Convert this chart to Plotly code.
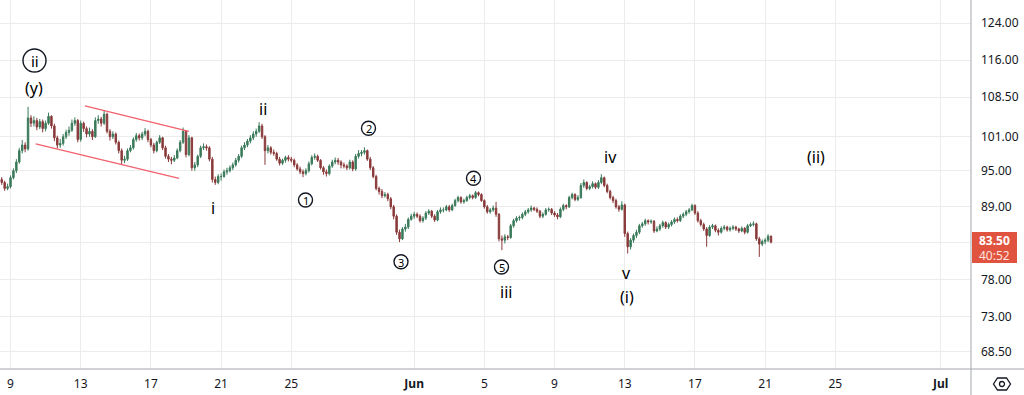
import plotly.graph_objects as go
from datetime import datetime, timedelta
import math

# ---------------- data (4h candles) ----------------
first_open = 93.5
closes = [
    93.0, 92.0, 92.3,                          # May 8 (12h-20h)
    93.8, 95.0, 96.5, 98.5, 99.5, 98.8,        # May 9
    104.5, 103.5, 104.0, 102.8, 103.8, 102.5,  # May 10
    103.5, 104.8, 103.0, 100.8, 99.5, 99.8,    # May 11
    101.0, 101.8, 102.2, 103.5, 104.0, 100.5,  # May 12
    103.5, 102.5, 101.5, 102.0, 101.0, 104.0,  # May 13
    104.3, 103.5, 105.2, 102.0, 101.0, 101.5,  # May 14
    100.0, 98.5, 96.8, 97.0, 98.5, 99.0,       # May 15
    100.5, 101.2, 100.8, 101.5, 102.0, 100.5,  # May 16
    99.5, 98.5, 100.0, 100.8, 99.0, 97.5,      # May 17
    97.0, 96.8, 97.2, 98.5, 100.0, 102.0,      # May 18
    97.8, 100.8, 95.5, 96.0, 97.5, 99.0,       # May 19
    99.2, 99.0, 97.0, 93.5, 93.0, 94.0,        # May 20
    94.0, 94.8, 95.0, 95.5, 96.0, 96.8,        # May 21
    97.5, 99.0, 99.5, 100.2, 100.8, 101.5,     # May 22
    102.0, 103.0, 101.0, 98.5, 99.0, 98.2,     # May 23
    98.0, 97.0, 96.3, 96.8, 97.3, 97.0,        # May 24
    96.8, 96.0, 95.3, 94.8, 94.5, 95.0,        # May 25
    96.2, 97.3, 97.5, 96.8, 95.5, 94.8,        # May 26
    94.5, 95.8, 96.5, 96.8, 96.5, 96.0,        # May 27
    95.8, 95.5, 96.5, 95.3, 97.5, 98.0,        # May 28
    98.2, 98.5, 97.0, 95.5, 94.0, 92.0,        # May 29
    91.5, 90.8, 91.0, 90.3, 89.0, 87.5,        # May 30
    85.0, 84.0, 85.5, 85.8, 87.0, 87.5,        # May 31
    87.8, 87.5, 86.8, 87.2, 88.0, 88.3,        # Jun 1
    87.5, 86.9, 88.2, 88.5, 88.5, 89.0,        # Jun 2
    88.5, 89.2, 90.0, 90.5, 89.8, 90.0,        # Jun 3
    90.5, 90.8, 90.5, 91.3, 91.0, 90.0,        # Jun 4
    89.0, 88.2, 88.5, 88.8, 87.8, 84.0,        # Jun 5
    83.8, 84.3, 84.2, 86.0, 86.8, 87.2,        # Jun 6
    87.3, 87.8, 88.2, 88.5, 88.8, 88.6,        # Jun 7
    88.3, 87.5, 87.8, 88.5, 88.6, 88.0,        # Jun 8
    87.7, 87.4, 88.6, 89.2, 89.0, 90.5,        # Jun 9
    91.0, 90.2, 90.5, 92.5, 93.0, 92.0,        # Jun 10
    92.3, 92.8, 92.2, 93.0, 93.8, 92.5,        # Jun 11
    91.5, 90.5, 90.0, 89.0, 88.6, 89.3,        # Jun 12
    84.8, 82.8, 83.8, 84.5, 85.0, 86.0,        # Jun 13
    86.3, 86.8, 86.6, 86.7, 85.2, 85.5,        # Jun 14
    86.0, 86.5, 85.8, 86.2, 86.6, 87.0,        # Jun 15
    86.8, 87.5, 87.8, 88.2, 88.5, 89.2,        # Jun 16
    88.0, 86.8, 86.2, 85.5, 84.5, 85.8,        # Jun 17
    86.0, 85.3, 85.0, 85.6, 85.8, 85.4,        # Jun 18
    85.6, 85.8, 85.5, 85.2, 85.6, 85.0,        # Jun 19
    86.0, 86.2, 86.3, 84.0, 83.2, 83.6,        # Jun 20
    83.8, 84.4, 83.5,                          # Jun 21
]
highs = [
    93.9, 93.3, 92.8,
    94.2, 95.4, 97.0, 99.0, 100.4, 100.0,
    106.6, 105.0, 104.8, 104.5, 104.3, 104.2,
    104.0, 105.5, 105.0, 103.4, 101.2, 100.6,
    101.5, 102.3, 102.9, 104.2, 104.6, 104.3,
    104.0, 103.8, 102.9, 102.7, 102.4, 104.6,
    105.0, 104.7, 106.0, 105.5, 102.4, 102.0,
    101.8, 100.3, 98.9, 97.6, 98.9, 99.5,
    100.9, 101.7, 101.6, 101.9, 102.6, 102.3,
    100.8, 99.9, 100.3, 101.3, 101.0, 99.4,
    97.9, 97.4, 97.7, 98.9, 100.4, 102.7,
    102.2, 101.3, 101.0, 96.5, 97.8, 99.4,
    99.8, 99.6, 99.3, 97.4, 94.0, 94.4,
    94.5, 95.2, 95.5, 95.9, 96.4, 97.2,
    97.9, 99.4, 100.0, 100.6, 101.3, 102.0,
    102.5, 103.7, 103.4, 101.3, 99.5, 99.3,
    98.7, 98.3, 97.4, 97.1, 97.6, 97.7,
    97.4, 97.1, 96.3, 95.7, 95.2, 95.4,
    96.6, 97.7, 98.0, 97.8, 97.0, 95.8,
    95.2, 96.1, 96.9, 97.3, 97.2, 96.8,
    96.4, 96.1, 96.9, 96.8, 97.9, 98.6,
    98.6, 99.1, 98.7, 97.4, 95.8, 94.3,
    92.3, 91.9, 91.4, 91.3, 90.6, 89.3,
    87.8, 85.4, 85.8, 86.3, 87.3, 87.9,
    88.2, 88.1, 87.8, 87.5, 88.3, 88.6,
    88.5, 87.8, 88.5, 88.9, 88.9, 89.3,
    89.3, 89.5, 90.3, 90.8, 90.7, 90.3,
    90.8, 91.1, 91.0, 91.6, 91.5, 91.2,
    90.2, 89.3, 88.8, 89.2, 89.8, 88.0,
    84.5, 84.7, 84.6, 86.3, 87.1, 87.5,
    87.6, 88.1, 88.5, 88.8, 89.2, 89.0,
    88.9, 88.5, 88.1, 88.8, 88.9, 88.8,
    88.3, 88.0, 88.9, 89.5, 89.4, 90.8,
    91.3, 91.2, 90.9, 92.9, 93.5, 93.2,
    92.6, 93.2, 93.0, 93.4, 94.4, 94.0,
    92.8, 91.8, 90.8, 90.3, 89.3, 89.9,
    89.5, 85.1, 84.1, 84.8, 85.4, 86.3,
    86.6, 87.1, 87.0, 87.0, 86.9, 85.9,
    86.3, 86.8, 86.7, 86.5, 86.9, 87.3,
    87.3, 87.8, 88.1, 88.5, 88.8, 89.5,
    89.4, 88.3, 87.1, 86.5, 85.8, 86.1,
    86.3, 86.2, 85.6, 85.9, 86.1, 86.0,
    85.9, 86.1, 86.0, 85.7, 85.9, 85.8,
    86.3, 86.5, 86.7, 86.5, 84.3, 83.9,
    84.1, 84.7, 84.5,
]
lows = [
    92.6, 91.6, 91.7,
    92.0, 93.5, 94.6, 96.2, 98.0, 98.2,
    98.5, 102.8, 102.9, 102.2, 102.4, 101.8,
    102.0, 103.2, 102.5, 100.2, 98.9, 99.0,
    99.4, 100.6, 101.2, 101.9, 103.0, 100.0,
    100.1, 101.9, 100.9, 101.0, 100.4, 100.8,
    103.4, 102.9, 103.2, 101.6, 100.3, 100.6,
    99.6, 98.0, 96.0, 96.3, 96.7, 98.2,
    98.7, 100.1, 100.3, 100.4, 101.1, 100.0,
    99.1, 98.0, 98.2, 99.7, 98.6, 97.1,
    96.5, 96.1, 96.5, 97.0, 98.2, 99.7,
    97.3, 97.5, 95.0, 95.0, 95.6, 97.2,
    98.6, 98.5, 96.6, 93.0, 92.6, 92.7,
    93.3, 93.8, 94.3, 94.7, 95.1, 95.7,
    96.4, 97.2, 98.6, 99.1, 99.8, 100.4,
    101.0, 101.7, 100.6, 96.0, 98.0, 97.8,
    97.6, 96.7, 95.9, 96.0, 96.4, 96.6,
    96.4, 95.6, 95.0, 94.4, 93.9, 94.2,
    94.7, 95.9, 96.9, 96.5, 95.2, 94.3,
    94.0, 94.2, 95.5, 96.1, 96.0, 95.4,
    95.4, 95.1, 95.2, 94.9, 95.0, 97.1,
    97.5, 97.8, 96.7, 95.1, 93.7, 91.7,
    91.0, 90.4, 90.5, 89.9, 88.6, 87.0,
    84.6, 83.5, 83.8, 85.1, 85.5, 86.8,
    87.1, 87.2, 86.5, 86.5, 86.9, 87.7,
    87.2, 86.6, 86.7, 87.9, 88.1, 88.3,
    88.2, 88.3, 89.0, 89.7, 89.5, 89.5,
    89.8, 90.2, 90.2, 90.3, 90.7, 89.8,
    88.7, 87.9, 87.9, 88.2, 87.4, 83.6,
    82.3, 83.3, 83.8, 84.0, 85.7, 86.5,
    86.8, 87.0, 87.5, 87.9, 88.2, 88.3,
    88.0, 87.2, 87.2, 87.6, 88.2, 87.7,
    87.4, 87.0, 87.2, 88.3, 88.6, 88.8,
    90.2, 89.9, 89.9, 90.3, 92.1, 91.7,
    91.7, 92.0, 91.9, 91.9, 92.7, 92.2,
    91.2, 90.2, 89.6, 88.7, 88.2, 88.4,
    84.3, 81.8, 82.4, 83.4, 84.1, 84.7,
    85.7, 86.0, 86.2, 86.3, 84.9, 85.0,
    85.2, 85.7, 85.5, 85.5, 85.9, 86.3,
    86.5, 86.6, 87.2, 87.5, 87.9, 88.3,
    87.7, 86.5, 85.9, 85.2, 82.8, 84.3,
    85.5, 85.0, 84.5, 84.8, 85.3, 85.1,
    85.1, 85.3, 85.2, 84.9, 85.0, 84.7,
    84.8, 85.8, 85.9, 83.7, 81.3, 82.9,
    83.2, 83.5, 83.3,
]
opens = [first_open] + closes[:-1]
first_candle = datetime(2024, 5, 8, 12)
times = [first_candle + timedelta(hours=4 * i) for i in range(len(closes))]

last_price = "83.50"
countdown = "40:52"

y_tick_vals = [68.5, 73, 78, 83.5, 89, 95, 101, 108.5, 116, 124]
# the 83.50 tick label is covered by the last-price box
y_tick_text = ["" if v == 83.5 else f"{v:.2f}" for v in y_tick_vals]
x_tick_dates = ["2024-05-09", "2024-05-13", "2024-05-17", "2024-05-21", "2024-05-25",
                "2024-06-01", "2024-06-05", "2024-06-09", "2024-06-13", "2024-06-17",
                "2024-06-21", "2024-06-25", "2024-07-01"]
x_tick_text = ["9", "13", "17", "21", "25", "<b>Jun</b>", "5", "9", "13", "17", "21", "25", "<b>Jul</b>"]

# channel trendlines (time, price)
upper_channel_t = ["2024-05-13 05:50", "2024-05-19 04:00"]
upper_channel_p = [106.8, 102.0]
lower_channel_t = ["2024-05-10 10:30", "2024-05-18 14:30"]
lower_channel_p = [99.7, 93.7]

# ---------------- layout geometry ----------------
W, H = 1024, 395
PW, PH = 971, 369  # plot area in px
def px(x):
    return x / PW
def py(y):
    return 1 - y / PH

TXT = "#131722"
GRID = "#ececec"
AXLINE = "#a3a6ad"

fig = go.Figure()
fig.add_trace(go.Candlestick(
    x=times, open=opens, high=highs, low=lows, close=closes,
    increasing=dict(line=dict(color="#3a7a5a", width=1), fillcolor="#3a7a5a"),
    decreasing=dict(line=dict(color="#8a3a3a", width=1), fillcolor="#8a3a3a"),
    whiskerwidth=0, hoverinfo="skip", showlegend=False,
))
for t, p in ((upper_channel_t, upper_channel_p), (lower_channel_t, lower_channel_p)):
    fig.add_trace(go.Scatter(x=t, y=p, mode="lines", line=dict(color="#f2616d", width=1.4),
                             hoverinfo="skip", showlegend=False))

# wave labels: (text, x px, y px, font size)
plain_labels = [
    ("(y)", 34, 88, 16),
    ("ii", 262.5, 109, 16),
    ("i", 213, 208, 16),
    ("iii", 505.5, 292, 16),
    ("iv", 610, 156.5, 16),
    ("v", 626.5, 273, 16),
    ("(i)", 626.5, 297, 16),
    ("(ii)", 816, 156.5, 16),
]
circled_labels = [
    ("ii", 34.5, 60.5, 11.5, 15),
    ("1", 305.5, 200, 7, 11),
    ("2", 368.5, 128.3, 7, 11),
    ("3", 401, 261.7, 7, 11),
    ("4", 473.5, 178.3, 7, 11),
    ("5", 501.5, 267, 7, 11),
]
annotations = []
shapes = []
for txt, x, y, s in plain_labels:
    annotations.append(dict(text=txt, x=px(x), y=py(y), xref="paper", yref="paper",
                            showarrow=False, xanchor="center", yanchor="middle",
                            font=dict(size=s, color="black", family="Noto Sans")))
for txt, x, y, r, s in circled_labels:
    shapes.append(dict(type="circle", xref="paper", yref="paper",
                       x0=px(x - r), x1=px(x + r), y0=py(y + r), y1=py(y - r),
                       line=dict(color=TXT, width=1.4)))
    annotations.append(dict(text=txt, x=px(x), y=py(y + 0.5), xref="paper", yref="paper",
                            showarrow=False, xanchor="center", yanchor="middle",
                            font=dict(size=s, color="black", family="Noto Sans")))

# price label box (background + two text lines)
shapes.append(dict(type="rect", xref="paper", yref="paper",
                   x0=px(972), x1=px(1017), y0=py(263), y1=py(232),
                   fillcolor="#e0533f", line=dict(width=0), layer="above"))
annotations.append(dict(text=f"<b>{last_price}</b>", x=px(994.5), y=py(240.5),
                        xref="paper", yref="paper", showarrow=False,
                        xanchor="center", yanchor="middle",
                        font=dict(size=12, color="white", family="Noto Sans")))
annotations.append(dict(text=countdown, x=px(994.5), y=py(255.5),
                        xref="paper", yref="paper", showarrow=False,
                        xanchor="center", yanchor="middle",
                        font=dict(size=12, color="#fde3df", family="Noto Sans")))

# axis borders
shapes.append(dict(type="line", xref="paper", yref="paper", x0=0, x1=px(W), y0=0, y1=0,
                   line=dict(color=AXLINE, width=1)))
shapes.append(dict(type="line", xref="paper", yref="paper", x0=1, x1=1, y0=py(H), y1=1,
                   line=dict(color=AXLINE, width=1)))
# settings hexagon icon
hx, hy = 1002, 384
hex_pts = [(hx - 8.5, hy), (hx - 4.5, hy - 6), (hx + 4.5, hy - 6), (hx + 8.5, hy),
           (hx + 4.5, hy + 6), (hx - 4.5, hy + 6)]
path = "M " + " L ".join(f"{px(a):.5f},{py(b):.5f}" for a, b in hex_pts) + " Z"
shapes.append(dict(type="path", xref="paper", yref="paper", path=path,
                   line=dict(color=TXT, width=1.3)))
shapes.append(dict(type="circle", xref="paper", yref="paper",
                   x0=px(hx - 2.5), x1=px(hx + 2.5), y0=py(hy + 2.5), y1=py(hy - 2.5),
                   line=dict(color=TXT, width=1.3)))

fig.update_layout(
    width=W, height=H,
    margin=dict(l=0, r=W - PW, t=0, b=H - PH),
    paper_bgcolor="white", plot_bgcolor="white",
    showlegend=False,
    annotations=annotations, shapes=shapes,
    xaxis=dict(
        type="date",
        range=["2024-05-08 09:38", "2024-07-02 17:30"],
        rangeslider=dict(visible=False),
        tickvals=x_tick_dates, ticktext=x_tick_text,
        showgrid=True, gridcolor=GRID, gridwidth=1,
        zeroline=False, showline=False, ticks="",
        ticklabelstandoff=6,
        tickfont=dict(size=12, color=TXT, family="Noto Sans"),
    ),
    yaxis=dict(
        type="log", side="right",
        range=[math.log10(66.4), math.log10(129.3)],
        tickvals=y_tick_vals, ticktext=y_tick_text,
        showgrid=True, gridcolor=GRID, gridwidth=1,
        zeroline=False, showline=False, ticks="",
        ticklabelstandoff=9,
        tickfont=dict(size=12, color=TXT, family="Noto Sans"),
    ),
)
fig.write_html("out.html")
